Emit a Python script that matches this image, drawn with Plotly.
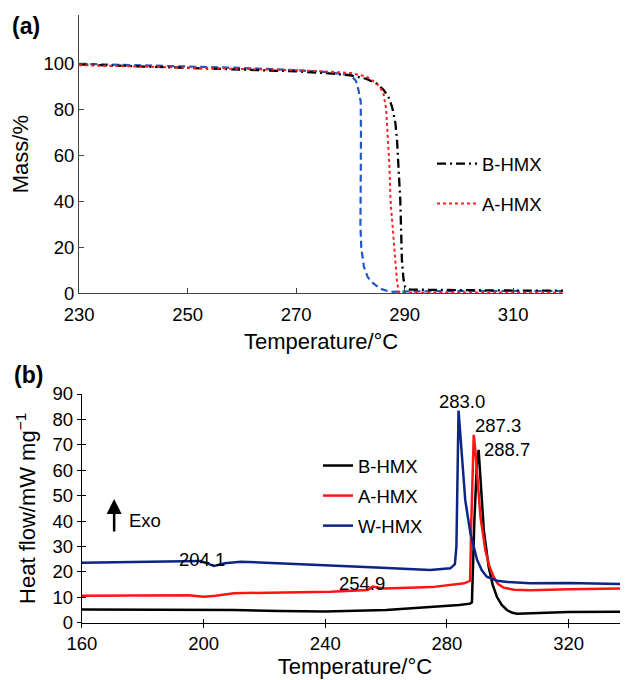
import plotly.graph_objects as go

# ---------------- Panel (a): TG curves ----------------
tg_b_T = [230, 240, 250, 260, 270, 275, 280, 283, 285, 286.1, 287, 287.7, 288.3, 288.6, 289.0, 289.2, 289.5, 289.8, 290.1, 291, 295, 300, 310, 319.2]
tg_b_M = [99.5, 98.8, 98.2, 97.5, 96.5, 95.8, 94.8, 93.2, 91.0, 88.5, 85.5, 81.0, 74.0, 66.5, 52.0, 40.4, 14.3, 6.0, 2.7, 1.6, 1.5, 1.3, 1.2, 1.2]

tg_a_T = [230, 240, 250, 260, 270, 275, 280, 283, 284.9, 285.7, 286.1, 286.6, 286.9, 287.2, 287.4, 287.9, 288.3, 288.6, 288.9, 290, 300, 319.2]
tg_a_M = [99.2, 98.7, 98.2, 97.6, 97.0, 96.5, 95.8, 94.2, 91.2, 88.6, 86.8, 80.0, 69.5, 55.0, 40.4, 25.0, 14.3, 5.0, 0.6, 0.4, 0.3, 0.3]

tg_w_T = [230, 240, 250, 260, 270, 275, 278, 280, 281, 281.5, 281.9, 281.95, 281.9, 281.85, 282.0, 282.5, 283.2, 284.3, 285.5, 287.4, 290, 300, 319.2]
tg_w_M = [99.8, 99.3, 98.8, 98.0, 97.0, 96.3, 95.5, 94.8, 92.5, 88.3, 83.5, 70.0, 45.0, 30.0, 20.0, 11.4, 7.0, 4.2, 2.0, 0.6, 0.8, 1.0, 1.0]

# ---------------- Panel (b): DSC curves ----------------
dsc_b_T = [160, 180, 200, 205, 210, 225, 240, 260, 275, 284, 287.6, 288.2, 289.0, 289.8, 290.4, 291.0, 292.1, 293.7, 295.0, 296.4, 298.0, 299.7, 301.5, 303.0, 307.4, 320, 339.5]
dsc_b_V = [5.2, 5.1, 5.0, 4.8, 5.0, 4.6, 4.4, 5.0, 6.2, 7.0, 7.5, 8.0, 40.0, 62.0, 68.0, 57.5, 36.5, 22.0, 15.0, 10.2, 7.0, 5.0, 3.9, 3.5, 3.7, 4.2, 4.3]

dsc_a_T = [160, 180, 195, 200.1, 204, 209.9, 225, 241.8, 253.9, 255.5, 259.4, 275, 285.7, 287.6, 288.0, 288.5, 288.8, 289.3, 289.9, 291.0, 292.6, 294.0, 295.3, 296.8, 298.6, 302, 307.4, 320, 339.5]
dsc_a_V = [10.6, 10.8, 10.8, 10.2, 10.6, 11.6, 11.8, 12.2, 12.9, 14.2, 13.5, 14.0, 15.5, 16.5, 40.0, 70.0, 73.9, 68.0, 58.8, 41.7, 28.6, 22.0, 18.1, 15.2, 13.8, 13.0, 12.8, 13.2, 13.5]

dsc_w_T = [160, 175, 190, 199, 203.4, 207, 212.2, 225, 238.4, 255, 274.5, 281.1, 282.6, 283.1, 283.8, 284.3, 284.9, 286.0, 287.7, 289.0, 289.9, 291.5, 293.1, 296.4, 300, 307.4, 320, 339.5]
dsc_w_V = [23.6, 23.8, 24.1, 24.3, 22.3, 23.4, 24.0, 23.4, 22.7, 21.8, 20.7, 21.4, 23.0, 30.0, 83.5, 75.0, 65.4, 48.3, 35.2, 28.5, 24.7, 20.5, 18.1, 16.5, 16.0, 15.5, 15.6, 15.2]

# annotations
peak_labels = ["283.0", "287.3", "288.7", "254.9", "204.1"]
peak_label_T = [284.8, 296.8, 299.6, 252.0, 199.4]
peak_label_V = [87.0, 77.8, 68.0, 15.5, 24.7]

FONT = "Liberation Sans, Arial, Helvetica, sans-serif"
TICK = 18.5
TITLE = 22

# the page body has an 8 px margin, so the figure is 8 px smaller than the window
W, H = 620, 672

fig = go.Figure()

# panel (a)
fig.add_trace(go.Scatter(x=tg_w_T, y=tg_w_M, mode="lines", name="W-HMX", showlegend=False,
                         line=dict(color="#2457c8", width=2.2, dash="7px,4px")))
fig.add_trace(go.Scatter(x=tg_b_T, y=tg_b_M, mode="lines", name="B-HMX", legend="legend", legendgroup="a1",
                         line=dict(color="black", width=2.3, dash="9px,4px,2px,4px")))
fig.add_trace(go.Scatter(x=tg_a_T, y=tg_a_M, mode="lines", name="A-HMX", legend="legend", legendgroup="a2",
                         line=dict(color="#ff1f1f", width=2, dash="dot")))

# panel (b)
fig.add_trace(go.Scatter(x=dsc_b_T, y=dsc_b_V, mode="lines", name="B-HMX", xaxis="x2", yaxis="y2",
                         legend="legend2", legendgroup="b1", line=dict(color="black", width=2.5)))
fig.add_trace(go.Scatter(x=dsc_a_T, y=dsc_a_V, mode="lines", name="A-HMX", xaxis="x2", yaxis="y2",
                         legend="legend2", legendgroup="b2", line=dict(color="#ff1414", width=2.5)))
fig.add_trace(go.Scatter(x=dsc_w_T, y=dsc_w_V, mode="lines", name="W-HMX", xaxis="x2", yaxis="y2",
                         legend="legend2", legendgroup="b3", line=dict(color="#0c2585", width=2.5)))
# invisible trace to activate the overlay axes (cross ticks)
fig.add_trace(go.Scatter(x=[None], y=[None], xaxis="x3", yaxis="y3", showlegend=False, hoverinfo="skip"))

tickfont = dict(family=FONT, size=TICK, color="black")
titlefont = dict(family=FONT, size=TITLE, color="black")

annotations = [
    dict(text="<b>(a)</b>", x=2 / W, y=1 - 18 / H, xref="paper", yref="paper", xanchor="left", yanchor="middle",
         showarrow=False, font=dict(family=FONT, size=23, color="black")),
    dict(text="<b>(b)</b>", x=4 / W, y=1 - 367 / H, xref="paper", yref="paper", xanchor="left", yanchor="middle",
         showarrow=False, font=dict(family=FONT, size=23, color="black")),
    dict(text="Exo", x=174.8, y=40.4, xref="x2", yref="y2", xanchor="left", yanchor="middle",
         showarrow=False, font=dict(family=FONT, size=TICK, color="black")),
    dict(text="", x=170.6, y=48.7, ax=170.6, ay=35.3, xref="x2", yref="y2", axref="x2", ayref="y2",
         showarrow=True, arrowhead=2, arrowsize=1.2, arrowwidth=2.5, arrowcolor="black"),
]
for t, xv, yv in zip(peak_labels, peak_label_T, peak_label_V):
    annotations.append(dict(text=t, x=xv, y=yv, xref="x2", yref="y2", xanchor="center", yanchor="middle",
                            showarrow=False, font=dict(family=FONT, size=TICK, color="black")))

a_x_dom = [71.2 / W, 555 / W]
a_y_dom = [1 - 285.3 / H, 1 - 7 / H]
b_x_dom = [73.9 / W, 1.0]
b_y_dom = [1 - 614.7 / H, 1 - 386 / H]

fig.update_layout(
    width=W, height=H,
    margin=dict(l=0, r=0, t=0, b=0, autoexpand=False),
    paper_bgcolor="white", plot_bgcolor="white",
    font=dict(family=FONT, size=TICK, color="black"),
    xaxis=dict(domain=a_x_dom, range=[230, 319.2], anchor="y", automargin=False,
               tickvals=[230, 250, 270, 290, 310], ticks="inside", ticklen=5, tickcolor="#444",
               ticklabelstandoff=4,
               showline=True, linecolor="#444", linewidth=1.2, showgrid=False, zeroline=False,
               tickfont=tickfont, title=dict(text="Temperature/°C", font=titlefont, standoff=10)),
    yaxis=dict(domain=a_y_dom, range=[0, 121], anchor="x", automargin=False,
               tickvals=[0, 20, 40, 60, 80, 100], ticks="inside", ticklen=5, tickcolor="#444",
               showline=True, linecolor="#444", linewidth=1.2, showgrid=False, zeroline=False,
               tickfont=tickfont, title=dict(text="Mass/%", font=titlefont, standoff=8)),
    xaxis2=dict(domain=b_x_dom, range=[160, 339.5], anchor="y2", automargin=False,
                tickvals=[160, 200, 240, 280, 320], ticks="outside", ticklen=4, tickcolor="black", tickwidth=1.2,
                showline=True, linecolor="black", linewidth=1.2, showgrid=False, zeroline=False,
                tickfont=tickfont, title=dict(text="Temperature/°C", font=titlefont, standoff=5)),
    yaxis2=dict(domain=b_y_dom, range=[0, 90], anchor="x2", automargin=False,
                tickvals=list(range(0, 91, 10)), ticks="outside", ticklen=4, tickcolor="black", tickwidth=1.2,
                showline=True, linecolor="black", linewidth=1.2, showgrid=False, zeroline=False,
                tickfont=tickfont, title=dict(text="Heat flow/mW mg<sup>−1</sup>", font=titlefont, standoff=10)),
    xaxis3=dict(overlaying="x2", matches="x2", anchor="y3", domain=b_x_dom, automargin=False,
                tickvals=[160, 200, 240, 280, 320], ticks="inside", ticklen=4, tickcolor="black", tickwidth=1.2,
                showticklabels=False, showline=False, showgrid=False, zeroline=False),
    yaxis3=dict(overlaying="y2", matches="y2", anchor="x3", domain=b_y_dom, automargin=False,
                tickvals=list(range(0, 91, 10)), ticks="inside", ticklen=4, tickcolor="black", tickwidth=1.2,
                showticklabels=False, showline=False, showgrid=False, zeroline=False),
    legend=dict(x=424 / W, y=1 - 137 / H, xanchor="left", yanchor="top", bgcolor="rgba(0,0,0,0)",
                font=dict(family=FONT, size=TICK, color="black"), tracegroupgap=13, itemwidth=40),
    legend2=dict(x=310 / W, y=1 - 439 / H, xanchor="left", yanchor="top", bgcolor="rgba(0,0,0,0)",
                 font=dict(family=FONT, size=TICK, color="black"), tracegroupgap=3, itemwidth=30),
    annotations=annotations,
    showlegend=True,
)

fig.write_html("out.html")
